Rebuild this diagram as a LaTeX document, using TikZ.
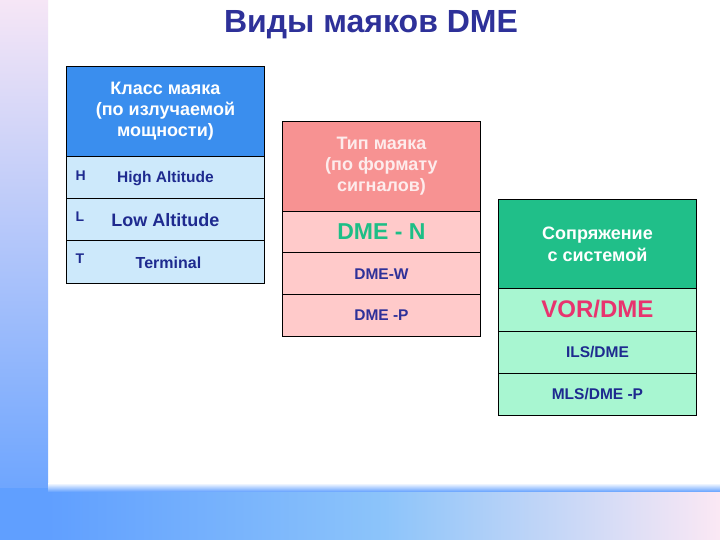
\documentclass[tikz,border=0pt]{standalone}
\usepackage{fontspec}
\setmainfont{Liberation Sans}
\definecolor{titleblue}{HTML}{2E3199}
\definecolor{navy}{HTML}{1E2A8F}
\definecolor{hdrblue}{HTML}{3A8EEE}
\definecolor{rowblue}{HTML}{CDE9FB}
\definecolor{hdrpink}{HTML}{F79292}
\definecolor{rowpink}{HTML}{FFCACA}
\definecolor{hdrgreen}{HTML}{20BF89}
\definecolor{rowgreen}{HTML}{A8F6D1}
\definecolor{dmegreen}{HTML}{1DBE86}
\definecolor{vorred}{HTML}{E8336E}
\definecolor{pinktxt}{HTML}{FDECEC}
\definecolor{barblue}{HTML}{609FFF}
\definecolor{barpink}{HTML}{FBE8F4}
\definecolor{barmid}{HTML}{8CC4FA}
\definecolor{bartop}{HTML}{F6E6F6}
\tikzset{
  cellbox/.style={draw=black, line width=0.9pt, rectangle, inner sep=0pt, anchor=north west, minimum width=198pt, align=center},
  hdrtext/.style={font=\fontsize{18}{21}\selectfont\bfseries, align=center},
  rowtext/.style={font=\fontsize{15.5}{18}\selectfont\bfseries, text=navy},
}
\begin{document}
\begin{tikzpicture}[x=1pt,y=-1pt]
\useasboundingbox (0,0) rectangle (720,540);
% background
\fill[white] (0,0) rectangle (720,540);
\shade[top color=bartop, bottom color=barblue] (0,0) rectangle (48,540);
\shade[top color=white, bottom color=barblue] (48,483) rectangle (720,492);
\shade[left color=barblue, right color=barpink, middle color=barmid] (48,492) rectangle (720,540);
\fill[barblue] (0,488) rectangle (48,540);
% title
\node[font=\fontsize{32}{36}\selectfont\bfseries, text=titleblue] (title) at (371,25) {Виды маяков DME};
% table 1
\node[cellbox, fill=hdrblue, minimum height=90pt] (c1h) at (66,66) {};
\node[hdrtext, text=white] (c1ht) at (c1h.center) {Класс маяка\\(по излучаемой\\мощности)};
\node[cellbox, fill=rowblue, minimum height=42pt] (c1a) at (66,156) {};
\node[cellbox, fill=rowblue, minimum height=42pt] (c1b) at (66,198) {};
\node[cellbox, fill=rowblue, minimum height=43pt] (c1c) at (66,240) {};
\node[rowtext, font=\fontsize{14}{16}\selectfont\bfseries, anchor=west] (hl) at ([xshift=6pt,yshift=2pt]c1a.west) {H};
\node[rowtext, font=\fontsize{14}{16}\selectfont\bfseries, anchor=west] (ll) at ([xshift=6pt,yshift=3pt]c1b.west) {L};
\node[rowtext, font=\fontsize{14}{16}\selectfont\bfseries, anchor=west] (tl) at ([xshift=6pt,yshift=3pt]c1c.west) {T};
\node[rowtext] (ha) at ([yshift=-1pt]c1a.center) {High Altitude};
\node[text=navy, font=\fontsize{18}{20}\selectfont\bfseries] (la) at ([yshift=-1pt]c1b.center) {Low Altitude};
\node[rowtext, font=\fontsize{16}{18}\selectfont\bfseries] (ta) at ([xshift=3pt,yshift=-1pt]c1c.center) {Terminal};
% table 2
\node[cellbox, fill=hdrpink, minimum height=90pt] (c2h) at (282,121) {};
\node[hdrtext, text=pinktxt] (c2ht) at (c2h.center) {Тип маяка\\(по формату\\сигналов)};
\node[cellbox, fill=rowpink, minimum height=41pt] (c2a) at (282,211) {};
\node[cellbox, fill=rowpink, minimum height=42pt] (c2b) at (282,252) {};
\node[cellbox, fill=rowpink, minimum height=42pt] (c2c) at (282,294) {};
\node[font=\fontsize{23}{25}\selectfont\bfseries, text=dmegreen] (dn) at (c2a.center) {DME - N};
\node[rowtext, text=titleblue] (dw) at ([yshift=-1pt]c2b.center) {DME-W};
\node[rowtext, text=titleblue] (dp) at (c2c.center) {DME -P};
% table 3
\node[cellbox, fill=hdrgreen, minimum height=89pt] (c3h) at (498,199) {};
\node[hdrtext, text=white, font=\fontsize{18}{22}\selectfont\bfseries] (c3ht) at (c3h.center) {Сопряжение\\с системой};
\node[cellbox, fill=rowgreen, minimum height=43pt] (c3a) at (498,288) {};
\node[cellbox, fill=rowgreen, minimum height=42pt] (c3b) at (498,331) {};
\node[cellbox, fill=rowgreen, minimum height=42pt] (c3c) at (498,373) {};
\node[font=\fontsize{24}{26}\selectfont\bfseries, text=vorred] (vd) at ([yshift=1pt]c3a.center) {VOR/DME};
\node[rowtext] (id) at (c3b.center) {ILS/DME};
\node[rowtext] (md) at (c3c.center) {MLS/DME -P};
\end{tikzpicture}
\end{document}
